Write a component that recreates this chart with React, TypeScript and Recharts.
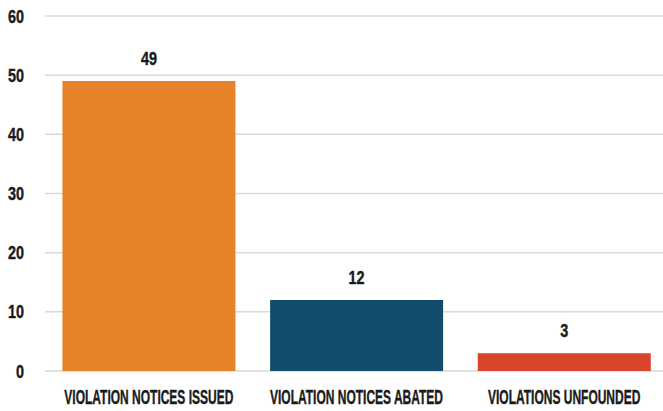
import React from "react";
import { BarChart, Bar, XAxis, YAxis, CartesianGrid, Cell, LabelList } from "recharts";

const categories = ["VIOLATION NOTICES ISSUED", "VIOLATION NOTICES ABATED", "VIOLATIONS UNFOUNDED"];
const values = [49, 12, 3];
const barColors = ["#E8822A", "#124C6C", "#D8452B"];
const yTicks = [0, 10, 20, 30, 40, 50, 60];

const data = categories.map((name, i) => ({ name, value: values[i] }));

const FONT = "'Liberation Sans', Arial, sans-serif";
const TEXT = "#1b1b1b";

const XTick = (props: any) => {
  const { x, y, payload } = props;
  return (
    <g transform={`translate(${x},${y})`}>
      <text
        transform="scale(0.6,1)"
        textAnchor="middle"
        y={25}
        fontFamily={FONT}
        fontWeight={700}
        fontSize={20}
        fill={TEXT}
        stroke={TEXT}
        strokeWidth={0.4}
      >
        {payload.value}
      </text>
    </g>
  );
};

const YTick = (props: any) => {
  const { x, y, payload } = props;
  return (
    <g transform={`translate(${x},${y})`}>
      <text
        transform="scale(0.8,1)"
        textAnchor="end"
        dy={6.5}
        fontFamily={FONT}
        fontWeight={700}
        fontSize={18}
        fill={TEXT}
        stroke={TEXT}
        strokeWidth={0.4}
      >
        {payload.value}
      </text>
    </g>
  );
};

const ValueLabel = (props: any) => {
  const { x, y, width, value } = props;
  return (
    <g transform={`translate(${x + width / 2},${y - 16})`}>
      <text
        transform="scale(0.8,1)"
        textAnchor="middle"
        fontFamily={FONT}
        fontWeight={700}
        fontSize={18}
        fill={TEXT}
        stroke={TEXT}
        strokeWidth={0.4}
      >
        {value}
      </text>
    </g>
  );
};

export default function App() {
  return (
    <div style={{ position: "absolute", left: 0, top: 0, width: 663, height: 411, overflow: "hidden", background: "#fff" }}>
      <BarChart
        width={670}
        height={411}
        data={data}
        margin={{ top: 16, right: 2, bottom: 0, left: 0 }}
        barCategoryGap="8.4%"
      >
        <CartesianGrid vertical={false} stroke="#D9D9D9" strokeWidth={1.5} />
        <XAxis
          dataKey="name"
          axisLine={false}
          tickLine={false}
          height={40}
          tick={<XTick />}
          interval={0}
        />
        <YAxis
          domain={[0, 60]}
          ticks={yTicks}
          axisLine={false}
          tickLine={false}
          width={45}
          tickMargin={15}
          tick={<YTick />}
          interval={0}
        />
        <Bar dataKey="value" isAnimationActive={false}>
          {data.map((d, i) => (
            <Cell key={d.name} fill={barColors[i]} />
          ))}
          <LabelList dataKey="value" content={<ValueLabel />} />
        </Bar>
      </BarChart>
    </div>
  );
}
